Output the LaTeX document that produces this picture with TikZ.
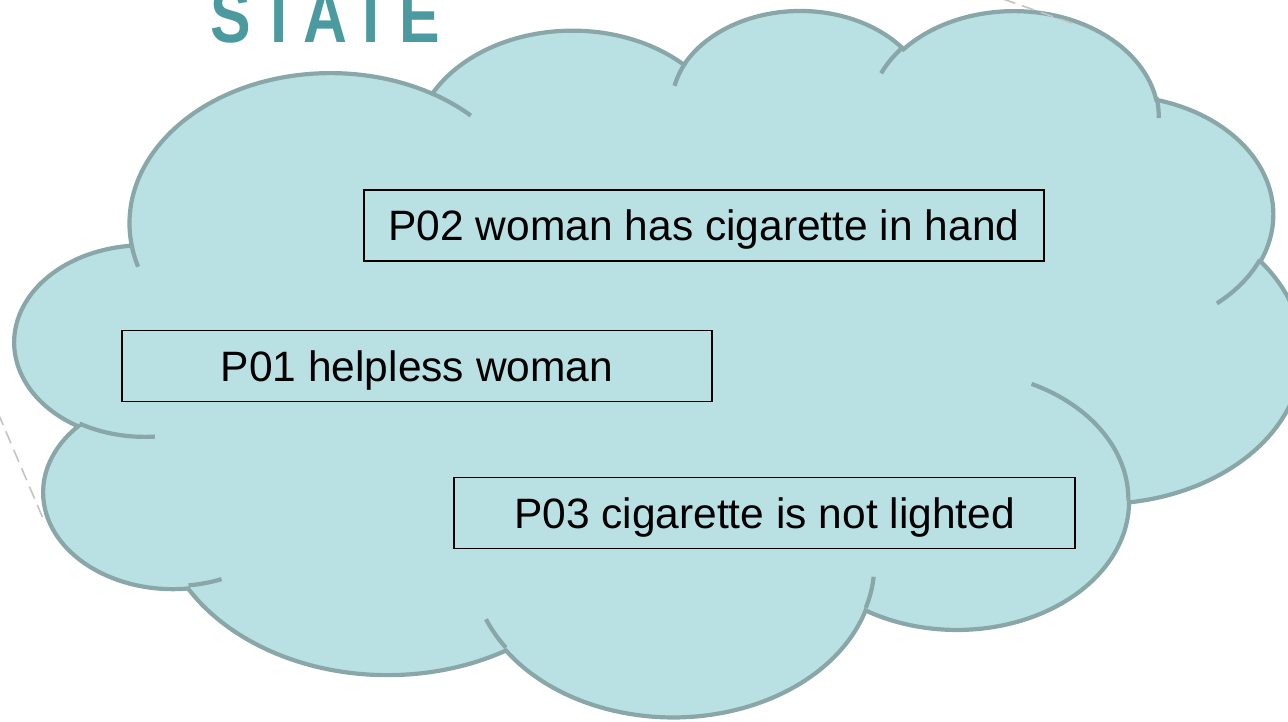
\documentclass[tikz,border=0pt]{standalone}
\usepackage{fontspec}
\setmainfont{Liberation Sans}
\newfontfamily\titlefont{Liberation Sans}[LetterSpace=13, FakeStretch=0.8]

\definecolor{cloudfill}{RGB}{185,224,227}
\definecolor{cloudedge}{RGB}{137,167,169}
\definecolor{titleteal}{RGB}{74,154,160}
\definecolor{decogrey}{RGB}{196,196,196}

\begin{document}
\begin{tikzpicture}[x=1pt, y=-1pt,
  cloudline/.style={draw=cloudedge, line width=4.2pt},
  propbox/.style={draw=black, line width=1.6pt, inner sep=0pt,
    minimum height=71pt, text height=30pt, text depth=0pt,
    font=\fontsize{42.5}{50}\selectfont},
  deco/.style={draw=decogrey, line width=1.6pt, dash pattern=on 13pt off 7pt},
  % elliptical arc given as x radius / y radius / start angle / sweep,
  % the angles measured as seen on the ellipse (not parametric)
  cloud arc/.code args={#1/#2/#3/#4}{%
    \pgfmathsetmacro\cloudTs{atan2((#1)*sin(#3),(#2)*cos(#3))}%
    \pgfmathsetmacro\cloudTe{atan2((#1)*sin((#3)+(#4)),(#2)*cos((#3)+(#4)))}%
    \pgfmathsetmacro\cloudDt{mod(\cloudTe-\cloudTs+720,360)}%
    \pgfkeysalso{start angle/.expanded=\cloudTs, delta angle/.expanded=\cloudDt,
      x radius=#1, y radius=#2}%
  },
]
\useasboundingbox (0,0) rectangle (1288,721);

% the cloud, laid out on a 432 x 432 grid
\begin{scope}[shift={(15.2,8.66)}, x=2.978pt, y=-1.6347pt]
  \fill[cloudfill] (39.00,143.70)
    arc[cloud arc=67.53/91.90/-190.48748/123.78053]
    arc[cloud arc=53.33/72.67/-144.10238/89.94523]
    arc[cloud arc=43.65/59.45/-145.80792/99.72302]
    arc[cloud arc=48.57/65.95/-130.98607/117.24173]
    arc[cloud arc=53.33/72.73/-78.70888/109.02692]
    arc[cloud arc=67.75/92.20/-46.26725/130.26900]
    arc[cloud arc=57.85/78.67/0.62502/114.03333]
    arc[cloud arc=67.52/92.15/22.45160/115.17255]
    arc[cloud arc=77.20/105.43/66.24263/75.71102]
    arc[cloud arc=43.60/59.18/-274.94208/146.73557]
    arc[cloud arc=43.45/59.45/-246.82850/152.51885]
    -- cycle;
  \draw[cloudline] (39.00,143.70)
    arc[cloud arc=67.53/91.90/-190.48748/123.78053]
    arc[cloud arc=53.33/72.67/-144.10238/89.94523]
    arc[cloud arc=43.65/59.45/-145.80792/99.72302]
    arc[cloud arc=48.57/65.95/-130.98607/117.24173]
    arc[cloud arc=53.33/72.73/-78.70888/109.02692]
    arc[cloud arc=67.75/92.20/-46.26725/130.26900]
    arc[cloud arc=57.85/78.67/0.62502/114.03333]
    arc[cloud arc=67.52/92.15/22.45160/115.17255]
    arc[cloud arc=77.20/105.43/66.24263/75.71102]
    arc[cloud arc=43.60/59.18/-274.94208/146.73557]
    arc[cloud arc=43.45/59.45/-246.82850/152.51885]
    -- cycle;
  % inner seams between the puffs
  \draw[cloudline]
    (46.93,261.77) arc[cloud arc=43.45/59.45/86.74200/26.42950]
    (69.28,348.99) arc[cloud arc=43.60/59.18/73.61047/11.44747]
    (164.78,390.90) arc[cloud arc=67.52/92.15/137.62415/14.08110]
    (288.27,347.51) arc[cloud arc=67.52/92.15/6.45327/15.99835]
    (341.29,229.54) arc[cloud arc=57.85/78.67/-70.29235/70.91737]
    (417.98,153.54) arc[cloud arc=53.33/72.73/30.31803/27.75150]
    (383.24,54.26) arc[cloud arc=48.57/65.95/-13.74433/14.85565]
    (290.78,39.52) arc[cloud arc=48.57/65.95/-149.18145/18.19365]
    (221.41,47.20) arc[cloud arc=43.65/59.45/-163.49427/17.68635]
    (140.00,51.92) arc[cloud arc=67.53/91.90/-66.70695/12.31935]
    (41.27,157.89) arc[cloud arc=67.53/91.90/157.65435/11.85817];
\end{scope}

% dashed guide lines
\coordinate (ga) at (1003,-1);
\coordinate (gb) at (1074,24);
\coordinate (gc) at (-2,413);
\coordinate (gd) at (45,523);
\draw[deco] (ga) -- (gb);
\draw[deco] (gc) -- (gd);

% title, its upper part running off the top edge
\node[anchor=base west, inner sep=0pt, text=titleteal,
  font=\titlefont\bfseries\fontsize{76}{84}\selectfont] (title) at (210,42.5) {STATE};

% propositions
\node[propbox, minimum width=680pt] (p02) at (704,225.5) {P02 woman has cigarette in hand};
\node[propbox, minimum width=590pt] (p01) at (417,366) {P01 helpless woman};
\node[propbox, minimum width=621pt] (p03) at (764.5,513) {P03 cigarette is not lighted};
\end{tikzpicture}
\end{document}
